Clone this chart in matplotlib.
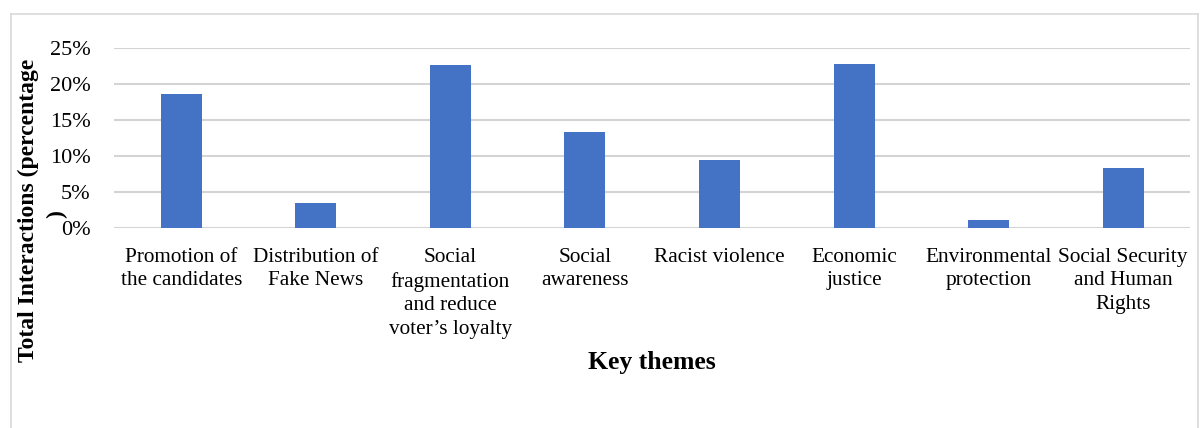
import matplotlib.pyplot as plt
from matplotlib.lines import Line2D
from matplotlib.ticker import PercentFormatter

plt.rcParams['font.family'] = ['Liberation Serif', 'DejaVu Serif']

categories = [
    "Promotion of\nthe candidates",
    "Distribution of\nFake News",
    "Social\nfragmentation\nand reduce\nvoter\u2019s loyalty",
    "Social\nawareness",
    "Racist violence",
    "Economic\njustice",
    "Environmental\nprotection",
    "Social Security\nand Human\nRights",
]
values = [18.6, 3.5, 22.6, 13.4, 9.4, 22.8, 1.1, 8.4]
yticks = [0, 5, 10, 15, 20, 25]

fig = plt.figure(figsize=(12, 4.28), dpi=100)
ax = fig.add_axes([0.095, 0.467, 0.897, 0.421])

x = range(len(categories))
ax.bar(x, values, width=0.305, color="#4472C4", zorder=3)

ax.set_xlim(-0.5, len(categories) - 0.5)
ax.set_ylim(0, 25)
ax.set_yticks(yticks)
ax.yaxis.set_major_formatter(PercentFormatter(decimals=0))
ax.set_xticks(list(x))
ax.set_xticklabels(categories, fontsize=15.3, linespacing=1.34, va="top")
ax.tick_params(axis="x", length=0, pad=14)
ax.tick_params(axis="y", length=0, pad=17, labelsize=16)
ax.grid(axis="y", color="#d4d4d4", linewidth=1.5, zorder=0)
for s in ax.spines.values():
    s.set_visible(False)

# y label wraps in the reference: the closing bracket sits on a second line
fig.text(28 / 1200, 1 - 210 / 428, "Total Interactions (percentage", rotation=90,
         ha="center", va="center", fontsize=17, fontweight="bold")
fig.text(57 / 1200, 1 - 214 / 428, ")", rotation=90,
         ha="center", va="center", fontsize=17, fontweight="bold")
fig.text(0.543, 1 - 363 / 428, "Key themes", ha="center", va="center",
         fontsize=18.5, fontweight="bold")

# light frame around the chart area
frame = dict(color="#d9d9d9", linewidth=1.2, transform=fig.transFigure)
fig.add_artist(Line2D([10.5 / 1200, 10.5 / 1200], [0, 1 - 13.5 / 428], **frame))
fig.add_artist(Line2D([10.5 / 1200, 1198 / 1200], [1 - 13.5 / 428, 1 - 13.5 / 428], **frame))
fig.add_artist(Line2D([1198 / 1200, 1198 / 1200], [0, 1 - 13.5 / 428], **frame))

fig.savefig("out.png", dpi=100)
